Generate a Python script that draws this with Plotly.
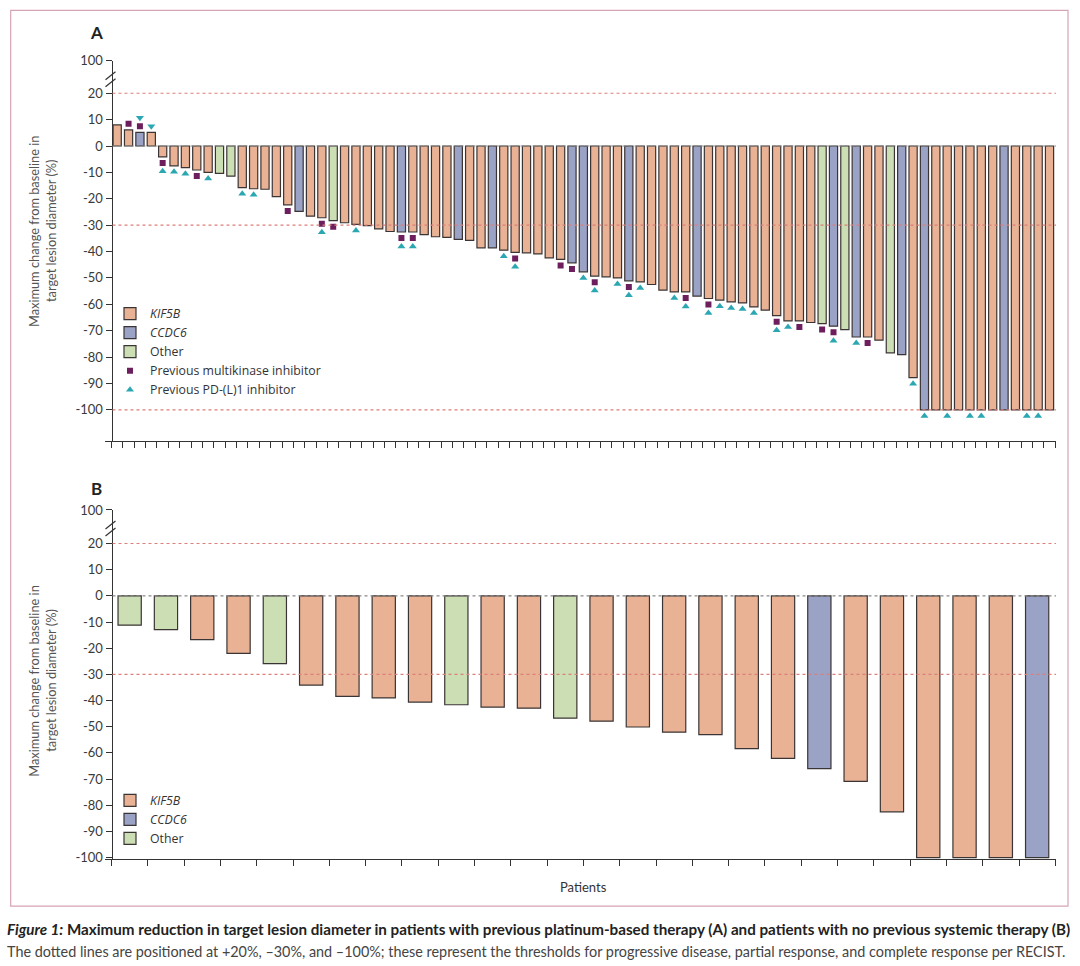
import plotly.graph_objects as go

# ---------------- DATA ----------------
# Panel A: previous platinum-based therapy (83 patients), % change
a_values = [8.0, 6.1, 5.2, 5.2, -4.1, -7.5, -8.2, -9.1, -10.0, -10.4,
            -11.4, -15.8, -16.2, -16.4, -19.2, -22.3, -24.8, -26.6, -27.2, -28.3,
            -29.1, -29.7, -30.2, -31.4, -32.4, -32.6, -32.6, -33.6, -34.4, -34.6,
            -35.4, -35.8, -38.6, -38.6, -39.5, -40.3, -40.5, -40.9, -42.4, -43.0,
            -44.3, -47.7, -49.3, -49.6, -50.0, -51.1, -51.5, -52.5, -54.6, -55.3,
            -55.3, -56.9, -57.8, -58.4, -59.1, -59.5, -61.0, -62.2, -64.3, -66.3,
            -66.3, -66.9, -67.3, -68.3, -69.6, -72.4, -72.4, -73.6, -78.4, -79.1,
            -87.8, -100, -100, -100, -100, -100, -100, -100, -100, -100,
            -100, -100, -100]
# fusion partner: K = KIF5B, C = CCDC6, O = Other
a_fusion = ["K", "K", "C", "K", "K", "K", "K", "K", "K", "O",
            "O", "K", "K", "K", "K", "K", "C", "K", "K", "O",
            "K", "K", "K", "K", "K", "C", "K", "K", "K", "K",
            "C", "K", "K", "C", "K", "K", "K", "K", "K", "K",
            "C", "C", "K", "K", "K", "C", "K", "K", "K", "K",
            "K", "C", "K", "K", "K", "K", "K", "K", "K", "K",
            "K", "K", "O", "C", "O", "C", "K", "K", "O", "C",
            "K", "C", "K", "K", "K", "K", "K", "K", "C", "K",
            "K", "K", "K"]
# patients (1-based) with previous multikinase inhibitor / PD-(L)1 inhibitor
a_prev_mki = [2, 3, 5, 8, 16, 19, 20, 26, 27, 36, 40, 41, 43, 46, 51, 53,
              59, 61, 63, 64, 67]
a_prev_pdl1 = [3, 4, 5, 6, 7, 9, 12, 13, 19, 22, 26, 27, 35, 36, 42, 43, 45,
               46, 47, 50, 51, 53, 54, 55, 56, 57, 59, 60, 64, 66, 71, 72, 74,
               76, 77, 81, 82]

# Panel B: no previous systemic therapy (26 patients)
b_values = [-11.2, -12.9, -16.7, -22.0, -25.9, -34.1, -38.4, -39.0, -40.6, -41.6,
            -42.5, -42.9, -46.7, -47.9, -50.1, -52.1, -53.0, -58.4, -62.1, -66.0,
            -70.9, -82.5, -100, -100, -100, -100]
b_fusion = ["O", "O", "K", "K", "O", "K", "K", "K", "K", "O",
            "K", "K", "O", "K", "K", "K", "K", "K", "K", "C",
            "K", "K", "K", "K", "K", "C"]

fusion_names = {"K": "<i>KIF5B</i>", "C": "<i>CCDC6</i>", "O": "Other"}
fusion_colors = {"K": "#E9B295", "C": "#9AA2C6", "O": "#CCDEB3"}

y_tick_labels = ["100", "20", "10", "0", "-10", "-20", "-30", "-40", "-50",
                 "-60", "-70", "-80", "-90", "-100"]
thresholds = [20, -30, -100]

# ---------------- STYLE ----------------
W, H = 1080, 966
# vertical mapping of the photographed page (measured on a test render)
Y_SHIFT, Y_SCALE = 8.3, 0.984
FONT = "Lato, 'Open Sans', sans-serif"
LEG_FONT = "'Open Sans', Lato, sans-serif"
TXT = "#333333"
OUTLINE = "#3b3434"
MKI_COLOR = "#6D1F5D"
PDL1_COLOR = "#2BA7B2"
RED = "#D9807A"


def px(x):
    return x / W


def py(y):
    return 1 - ((y - Y_SHIFT) / Y_SCALE) / H


# geometry (target pixels)
X_LEFT, X_RIGHT, Y_AXIS_X = 105, 1056, 111.5
A_TOP, A_BOT = 61, 441
B_TOP, B_BOT = 509.5, 858.3
A_PITCH = 11.37
B_PITCH = 36.3
A_BREAK_VAL = 32.3  # position used for the "100" tick above the break
B_BREAK_VAL = 32.8

fig = go.Figure()

# ---------- Panel A bars ----------
na = len(a_values)
for code in ["K", "C", "O"]:
    xs = [i + 1 for i in range(na) if a_fusion[i] == code]
    ys = [a_values[i] for i in range(na) if a_fusion[i] == code]
    fig.add_trace(go.Bar(
        x=xs, y=ys, width=0.72, name=fusion_names[code],
        marker=dict(color=fusion_colors[code], line=dict(color=OUTLINE, width=1.2)),
        xaxis="x", yaxis="y", legend="legend", hoverinfo="skip"))

# ---------- Panel A markers ----------
OFF1, OFF2 = 2.3, 5.5
mki_x, mki_y = [], []
for p in a_prev_mki:
    v = a_values[p - 1]
    s = 1 if v > 0 else -1
    mki_x.append(p)
    mki_y.append(v + s * OFF1)
fig.add_trace(go.Scatter(
    x=mki_x, y=mki_y, mode="markers", name="Previous multikinase inhibitor",
    marker=dict(symbol="square", size=6, color=MKI_COLOR),
    xaxis="x", yaxis="y", legend="legend", hoverinfo="skip"))

up_x, up_y, dn_x, dn_y = [], [], [], []
for p in a_prev_pdl1:
    v = a_values[p - 1]
    off = OFF2 if p in a_prev_mki else OFF1
    if v > 0:
        dn_x.append(p)
        dn_y.append(v + off)
    else:
        up_x.append(p)
        up_y.append(v - off)
fig.add_trace(go.Scatter(
    x=up_x, y=up_y, mode="markers", name="Previous PD-(L)1 inhibitor",
    legendgroup="pdl1",
    marker=dict(symbol="triangle-up", size=7, color=PDL1_COLOR),
    xaxis="x", yaxis="y", legend="legend", hoverinfo="skip"))
fig.add_trace(go.Scatter(
    x=dn_x, y=dn_y, mode="markers", name="Previous PD-(L)1 inhibitor",
    legendgroup="pdl1", showlegend=False,
    marker=dict(symbol="triangle-down", size=7, color=PDL1_COLOR),
    xaxis="x", yaxis="y", hoverinfo="skip"))

# ---------- Panel B bars ----------
nb = len(b_values)
for code in ["K", "C", "O"]:
    xs = [i + 1 for i in range(nb) if b_fusion[i] == code]
    ys = [b_values[i] for i in range(nb) if b_fusion[i] == code]
    fig.add_trace(go.Bar(
        x=xs, y=ys, width=0.64, name=fusion_names[code],
        marker=dict(color=fusion_colors[code], line=dict(color=OUTLINE, width=1.2)),
        xaxis="x2", yaxis="y2", legend="legend2", hoverinfo="skip"))

# ---------- axes ----------
def yvals(break_val):
    return [break_val] + [20 - 10 * k for k in range(13)]


a_r0 = 0.5 - (Y_AXIS_X - X_LEFT) / A_PITCH
a_r1 = 0.5 + (X_RIGHT - Y_AXIS_X) / A_PITCH
b_r0 = 0.5 - (Y_AXIS_X - X_LEFT) / B_PITCH
b_r1 = 0.5 + (X_RIGHT - Y_AXIS_X) / B_PITCH

axis_common = dict(showgrid=False, zeroline=False, showline=True,
                   linecolor=TXT, linewidth=1, ticks="outside",
                   tickcolor=TXT, tickwidth=1, ticklen=6)
tickfont = dict(family=FONT, size=13, color="#3a3a3a")

fig.update_layout(
    xaxis=dict(domain=[px(X_LEFT), px(X_RIGHT)], anchor="y",
               range=[a_r0, a_r1], tickmode="array",
               tickvals=[k + 0.5 for k in range(na + 1)],
               showticklabels=False, **axis_common),
    yaxis=dict(domain=[py(A_BOT), py(A_TOP)], anchor="free", position=px(Y_AXIS_X),
               range=[(146 - A_BOT) / 2.635, A_BREAK_VAL], tickmode="array",
               tickvals=yvals(A_BREAK_VAL), ticktext=y_tick_labels,
               tickfont=tickfont, **axis_common),
    xaxis2=dict(domain=[px(X_LEFT), px(X_RIGHT)], anchor="y2",
                range=[b_r0, b_r1], tickmode="array",
                tickvals=[k + 0.5 for k in range(nb + 1)],
                showticklabels=False, **axis_common),
    yaxis2=dict(domain=[py(B_BOT), py(B_TOP)], anchor="free", position=px(Y_AXIS_X),
                range=[-100.65, B_BREAK_VAL], tickmode="array",
                tickvals=yvals(B_BREAK_VAL), ticktext=y_tick_labels,
                tickfont=tickfont, **axis_common),
    barmode="overlay",
    width=W, height=H,
    margin=dict(l=0, r=0, t=0, b=0),
    paper_bgcolor="white", plot_bgcolor="white",
    font=dict(family=FONT, size=13, color=TXT),
    legend=dict(x=px(110), y=py(299), xanchor="left", yanchor="top",
                bgcolor="rgba(0,0,0,0)", font=dict(family=LEG_FONT, size=12.3, color=TXT),
                traceorder="normal", itemclick=False, tracegroupgap=0),
    legend2=dict(x=px(110), y=py(785), xanchor="left", yanchor="top",
                 bgcolor="rgba(0,0,0,0)", font=dict(family=LEG_FONT, size=12.3, color=TXT),
                 traceorder="normal", itemclick=False, tracegroupgap=0),
)

# ---------- shapes ----------
shapes = []
# figure frame
shapes.append(dict(type="rect", xref="paper", yref="paper",
                   x0=px(10.7), x1=px(1068), y0=py(905), y1=py(10.7),
                   line=dict(color="#D6A4B4", width=1.2), layer="below"))
# threshold lines
for yref, vals in (("y", thresholds), ("y2", [20, -30])):
    for t in vals:
        shapes.append(dict(type="line", xref="paper", yref=yref,
                           x0=px(Y_AXIS_X + 1), x1=px(X_RIGHT), y0=t, y1=t,
                           line=dict(color=RED, width=1.2, dash="3px,3px"),
                           layer="above"))
    shapes.append(dict(type="line", xref="paper", yref=yref,
                       x0=px(Y_AXIS_X + 1), x1=px(X_RIGHT), y0=0, y1=0,
                       line=dict(color="#8a8a8a", width=1.2, dash="3px,3px"),
                       layer="above"))
# axis break marks
for top in (A_TOP, B_TOP):
    for d in (11, 18):
        shapes.append(dict(type="line", xref="paper", yref="paper",
                           x0=px(Y_AXIS_X - 6), x1=px(Y_AXIS_X + 4),
                           y0=py(top + d + 8), y1=py(top + d),
                           line=dict(color=TXT, width=1.2), layer="above"))
fig.update_layout(shapes=shapes)

# ---------- annotations ----------
def note(text, x, y, size, color, xanchor="center", family=FONT, **kw):
    return dict(text=text, x=px(x), y=py(y), xref="paper", yref="paper",
                xanchor=xanchor, yanchor="middle", showarrow=False,
                font=dict(family=family, size=size, color=color), **kw)


ann = [
    note("<b>A</b>", 96, 33, 17, "#222"),
    note("<b>B</b>", 96, 488, 17, "#222"),
    note("Patients", 583, 886, 13, TXT),
]
ytitle_lines = ["Maximum change from baseline in", "target lesion diameter (%)"]
for yc in (231, 680):
    for xl, line in zip((34, 51), ytitle_lines):
        ann.append(note(line, xl, yc, 12.8, "#555", textangle=-90))
CAP_FONT = "Lato, sans-serif"
ann.append(note(
    "<b><i>Figure 1:</i> Maximum reduction in target lesion diameter in patients with "
    "previous platinum-based therapy (A) and patients with no previous systemic therapy (B)</b>",
    5, 928, 15.2, "#222", xanchor="left", family=CAP_FONT))
ann.append(note(
    "The dotted lines are positioned at +20%, –30%, and –100%; these represent the "
    "thresholds for progressive disease, partial response, and complete response per RECIST.",
    5, 950, 14.4, "#444", xanchor="left", family=CAP_FONT))
fig.update_layout(annotations=ann)

fig.write_html("out.html", config={"displayModeBar": False},
               post_script="document.body.style.margin='0px';")
